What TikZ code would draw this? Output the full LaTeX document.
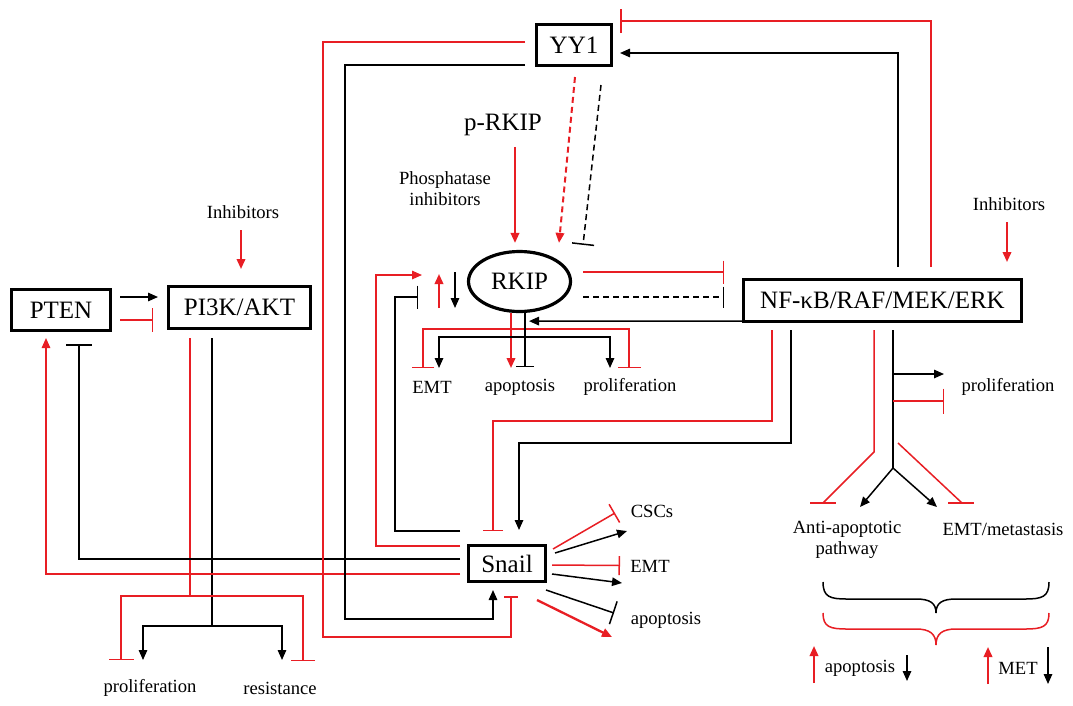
\documentclass[tikz,border=0pt]{standalone}
\usepackage{fontspec}
\setmainfont{Liberation Serif}
\usetikzlibrary{arrows.meta,shapes.geometric,calc}
\definecolor{rd}{RGB}{232,30,36}
\begin{document}
\begin{tikzpicture}[x=1pt,y=-1pt,
  big/.style={font=\fontsize{25}{29}\selectfont},
  small/.style={font=\fontsize{18.6}{21}\selectfont},
  box/.style={draw,line width=3.2pt,inner sep=0pt,big},
  conn/.style={line width=1.5pt},
  rc/.style={conn,draw=rd},
  bc/.style={conn,draw=black},
  arr/.style={-{Triangle[length=10pt,width=8.5pt]}},
  inh/.style={-{Bar[width=#1]}},
  inh/.default=24pt,
  dsh/.style={dash pattern=on 6pt off 4pt}]
\useasboundingbox (0,0) rectangle (1073,705);
\fill[white] (0,0) rectangle (1073,705);

% ---------- nodes ----------
\node[box,minimum width=98.8pt,minimum height=40.8pt] (PTEN) at (61,310) {PTEN};
\node[box,minimum width=141.8pt,minimum height=41.8pt] (PI3K) at (239.5,307.5) {PI3K/AKT};
\node[box,minimum width=74.8pt,minimum height=40.8pt] (YY1) at (574,45) {YY1};
\node[box,minimum width=277.8pt,minimum height=41.8pt] (NF) at (882.5,300.5) {NF-κB/RAF/MEK/ERK};
\node[box,minimum width=76.8pt,minimum height=35.8pt] (Snail) at (507,563.5) {Snail};
\node[draw,ellipse,line width=3.2pt,inner sep=0pt,minimum width=102pt,minimum height=60pt,big] (RKIP) at (519.5,281.5) {RKIP};

\node[small] (inhL) at (243,212) {Inhibitors};
\node[small] (inhR) at (1009,204) {Inhibitors};
\node[big] (pR) at (503,125) {p-RKIP};
\node[small,align=center] (phos) at (445,189) {Phosphatase\\inhibitors};
\node[small] (emt1) at (432,387) {EMT};
\node[small] (apo1) at (520,387) {apoptosis};
\node[small] (pro1) at (630,387) {proliferation};
\node[small] (pro2) at (150,688) {proliferation};
\node[small] (res) at (280,688) {resistance};
\node[small] (cscs) at (652,511) {CSCs};
\node[small] (emt2) at (650,566) {EMT};
\node[small] (apo2) at (666,620) {apoptosis};
\node[small] (pro3) at (1008,387) {proliferation};
\node[small,align=center] (anti) at (847,540) {Anti-apoptotic\\pathway};
\node[small] (emtm) at (1003,529) {EMT/metastasis};
\node[small] (apo3) at (860,668) {apoptosis};
\node[small] (met) at (1018,668) {MET};

% ---------- PTEN / PI3K ----------
\draw[bc,arr] ($(PTEN.east)+(8,-13)$) -- ($(PI3K.west)+(-9,-10.5)$);
\draw[rc,inh] ($(PTEN.east)+(8,10)$) -- ($(PI3K.west)+(-14,12.5)$);
\draw[rc,arr,line width=2pt] ($(inhL.south)+(-2,8)$) -- ($(PI3K.north)+(1.5,-16)$);

\coordinate (pk) at (212,626);
\coordinate (pr) at (190,596);
\draw[bc] ($(PI3K.south)+(-27.5,8)$) -- (pk);
\draw[bc,arr] (pk) -| (143,660);
\draw[bc,arr] (pk) -| (282,660);
\draw[rc] ($(PI3K.south)+(-49.5,8)$) -- (pr);
\draw[rc,inh=25pt] (pr) -| (121,660);
\draw[rc,inh] (pr) -| (303,661);

% ---------- Snail -> PTEN ----------
\draw[rc,arr] ($(Snail.west)+(-7,10.5)$) -| ($(PTEN.south)+(-15,6)$);
\draw[bc,inh=26pt] ($(Snail.west)+(-7,-4.5)$) -| ($(PTEN.south)+(18,12)$);

% ---------- YY1 -> Snail ----------
\draw[rc,inh=14pt] ($(YY1.west)+(-10,-3)$) -- (323,42) -- (323,637) -| ($(Snail.south)+(4,13)$);
\draw[bc,arr] ($(YY1.west)+(-10,20)$) -- (345,65) -- (345,619) -| ($(Snail.south)+(-14,7)$);

% ---------- NF -> YY1 ----------
\draw[bc,arr] ($(NF.north)+(15.5,-11)$) -- (898,53) -- ($(YY1.east)+(7,8)$);
\draw[rc,inh] ($(NF.north)+(48.5,-11)$) -- (931,21) -- ($(YY1.east)+(7,-24)$);
\draw[rc,arr,line width=2pt] ($(inhR.south)+(-2,8)$) -- ($(NF.north)+(124.5,-16)$);

% ---------- into RKIP ----------
\draw[rc,arr,line width=2pt] ($(RKIP.north)+(-4.5,-103)$) -- ($(RKIP.north)+(-4.5,-7)$);
\draw[rc,dsh,arr,line width=2pt] ($(YY1.south)+(1,10)$) -- ($(RKIP.north)+(39.5,-7)$);
\draw[bc,dsh,inh=22pt] ($(YY1.south)+(27,18)$) -- ($(RKIP.north)+(63.5,-5)$);

% ---------- RKIP <-> NF ----------
\draw[rc,inh=23pt] ($(RKIP.east)+(11,-9.5)$) -- ($(NF.west)+(-18,-28.5)$);
\draw[bc,dsh,inh=21pt] ($(RKIP.east)+(11,15.5)$) -- ($(NF.west)+(-18,-3.5)$);
\draw[bc,arr] ($(NF.west)+(0,20.5)$) -- ($(RKIP.south)+(9.5,8)$);

% ---------- RKIP outputs ----------
\draw[rc,arr,line width=2pt] ($(RKIP.south)+(-8.5,0)$) -- (511,368);
\draw[rc,inh=22pt] (511,329) -| (423,368);
\draw[rc,inh=23pt] (511,329) -| (629,368);
\draw[bc,inh=18pt] ($(RKIP.south)+(5.5,0)$) -- (525,367);
\draw[bc,arr] (525,337) -| (439,368);
\draw[bc,arr] (525,337) -| (610,368);

% up / down near RKIP
\draw[rc,arr,line width=2pt] (439,308) -- (439,274);
\draw[bc,arr] (455,272) -- (455,308);

% ---------- Snail -> RKIP ----------
\draw[rc,arr] ($(Snail.west)+(-7,-17.5)$) -- (376,546) -- (376,275) -- (422,275);
\draw[bc,inh=23pt] ($(Snail.west)+(-7,-32.5)$) -- (395,531) -- (395,297) -- (418,297);

% ---------- NF -> Snail ----------
\draw[rc,inh=20pt] ($(NF.south)+(-110.5,7)$) -- (772,421) -- (493,421) -- ($(Snail.north)+(-14,-13)$);
\draw[bc,arr] ($(NF.south)+(-91.5,7)$) -- (791,443) -- (519,443) -- ($(Snail.north)+(12,-14)$);

% ---------- Snail outputs ----------
\draw[rc,inh=21pt] ($(Snail.east)+(6,-14.5)$) -- (615,513);
\draw[bc,arr] ($(Snail.east)+(8,-10.5)$) -- (627,531);
\draw[rc,inh=19pt] ($(Snail.east)+(5,1.5)$) -- (620,565.5);
\draw[bc,arr] ($(Snail.east)+(5,10.5)$) -- (622,583);
\draw[bc,inh=24pt] ($(Snail.east)+(-1,26.5)$) -- (614,613);
\draw[rc,arr,line width=2.3pt] ($(Snail.east)+(-10,36.5)$) -- (612,637);

% ---------- NF outputs ----------
\coordinate (nb) at (893,468);
\draw[bc] ($(NF.south)+(10.5,7)$) -- (nb);
\draw[bc,arr] (893,374) -- (944,374);
\draw[rc,inh=25pt] (893,401) -- (944,401);
\draw[bc,arr] (nb) -- (860,507);
\draw[bc,arr] (nb) -- (937,507);
\draw[rc] ($(NF.south)+(-8.5,7)$) -- (874,452) -- (823,503);
\draw[rc] (810,503) -- (836,503);
\draw[rc] (898,443) -- (962,503);
\draw[rc] (948,503) -- (974,503);

% ---------- braces ----------
\draw[bc] (823,582) .. controls (823,597) and (830,599) .. (847,599) -- (916,599)
  .. controls (930,599) and (936,603) .. (936,613)
  .. controls (936,603) and (942,599) .. (956,599) -- (1025,599)
  .. controls (1042,599) and (1049,597) .. (1049,582);
\draw[rc] (823,613) .. controls (823,627) and (830,629) .. (847,629) -- (916,629)
  .. controls (930,629) and (936,634) .. (936,645)
  .. controls (936,634) and (942,629) .. (956,629) -- (1025,629)
  .. controls (1042,629) and (1049,627) .. (1049,613);

% ---------- bottom arrows ----------
\draw[rc,arr,line width=2pt] (814,683) -- (814,646);
\draw[bc,arr] (907,655) -- (907,681);
\draw[rc,arr,line width=2pt] (988,684) -- (988,647);
\draw[bc,arr] (1048,647) -- (1048,684);
\end{tikzpicture}
\end{document}
